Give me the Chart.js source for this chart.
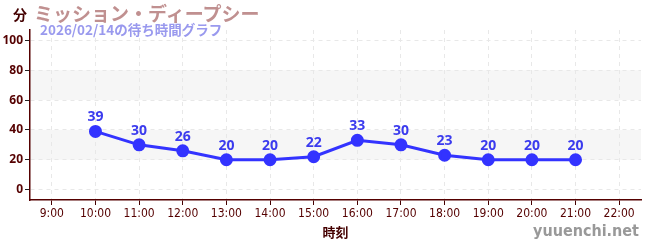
<!DOCTYPE html>
<html>
<head>
<meta charset="utf-8">
<script src="https://cdn.jsdelivr.net/npm/chart.js@4"></script>
<style>
  body { margin: 0; background: #fff; }
  #wrap { position: relative; width: 650px; height: 250px; }
  .lbl { position: absolute; font-family: "Noto Sans CJK JP", sans-serif; font-weight: bold; white-space: nowrap; line-height: 1; }
</style>
</head>
<body>
<div id="wrap">
  <canvas id="grafico" width="650" height="250"></canvas>
  <div class="lbl" style="left:13px;top:7px;font-size:14px;color:#400;">分</div>
  <div class="lbl" style="left:34px;top:3px;font-size:19px;color:#c09090;">ミッション・ディープシー</div>
  <div class="lbl" style="left:40px;top:23px;font-size:13.5px;color:#9999ee;">2026/02/14の待ち時間グラフ</div>
  <div class="lbl" style="left:533px;top:223px;font-size:16px;color:#999;font-family:'DejaVu Sans Condensed','DejaVu Sans',sans-serif;">yuuenchi.net</div>
</div>
<script>
// dados do gráfico
const horas = [10, 11, 12, 13, 14, 15, 16, 17, 18, 19, 20, 21];
const espera = [39, 30, 26, 20, 20, 22, 33, 30, 23, 20, 20, 20];
const horasEixo = [9, 10, 11, 12, 13, 14, 15, 16, 17, 18, 19, 20, 21, 22];
const valoresEixoY = [0, 20, 40, 60, 80, 100];
const faixas = [[20, 40], [60, 80]];

const corEixo = '#500';

// faixas cinzas no fundo
const faixasPlugin = {
  id: 'faixas',
  beforeDraw(chart) {
    const { ctx, chartArea: a, scales: { y } } = chart;
    ctx.save();
    ctx.fillStyle = '#f6f6f6';
    faixas.forEach(([lo, hi]) => {
      const t = y.getPixelForValue(hi), b = y.getPixelForValue(lo);
      ctx.fillRect(a.left, t, a.right - a.left, b - t);
    });
    ctx.restore();
  }
};

// rótulos acima dos pontos
const rotulosPlugin = {
  id: 'rotulos',
  afterDatasetsDraw(chart) {
    const { ctx } = chart;
    const meta = chart.getDatasetMeta(0);
    ctx.save();
    ctx.font = 'bold 14px "Noto Sans", sans-serif';
    ctx.fillStyle = '#3b3bee';
    ctx.textAlign = 'center';
    ctx.textBaseline = 'bottom';
    meta.data.forEach((pt, i) => {
      ctx.fillText(String(espera[i]), pt.x, pt.y - 7);
    });
    ctx.restore();
  }
};

new Chart(document.getElementById('grafico'), {
  type: 'line',
  data: {
    datasets: [{
      data: horas.map((h, i) => ({ x: h, y: espera[i] })),
      borderColor: '#3333ff',
      backgroundColor: '#3333ff',
      borderWidth: 3,
      pointRadius: 5,
      pointHoverRadius: 5,
      tension: 0
    }]
  },
  options: {
    responsive: false,
    animation: false,
    layout: { padding: { top: 30, right: 9, left: 0, bottom: 0 } },
    plugins: { legend: { display: false }, tooltip: { enabled: false } },
    scales: {
      x: {
        type: 'linear',
        min: 8.5,
        max: 22.5,
        afterBuildTicks: s => { s.ticks = horasEixo.map(v => ({ value: v })); },
        afterFit: s => { s.height = 50; },
        ticks: {
          color: corEixo,
          font: { family: '"Liberation Sans Narrow", "DejaVu Sans Condensed", sans-serif', size: 12 },
          padding: 2,
          maxRotation: 0,
          callback: v => v + ':00'
        },
        grid: { color: '#e8e8e8', tickColor: '#400', tickLength: 5 },
        border: { color: corEixo, width: 1.5, dash: [4, 4] },
        title: {
          display: true,
          text: '時刻',
          color: '#400',
          font: { family: '"Noto Sans CJK JP", sans-serif', size: 13, weight: 'bold' },
          padding: { top: 0, bottom: 10 }
        }
      },
      y: {
        min: -7,
        max: 107,
        afterBuildTicks: s => {
          const t = [];
          for (let v = 0; v <= 100; v += 10) t.push({ value: v });
          s.ticks = t;
        },
        afterFit: s => { s.width = 30; },
        ticks: {
          color: corEixo,
          font: { family: '"Noto Sans", sans-serif', size: 12, weight: 'bold' },
          padding: 2,
          callback: v => valoresEixoY.includes(v) ? String(v) : ''
        },
        grid: {
          color: c => valoresEixoY.includes(c.tick && c.tick.value) ? '#e8e8e8' : 'rgba(0,0,0,0)',
          tickColor: c => valoresEixoY.includes(c.tick && c.tick.value) ? '#222' : '#e00',
          tickLength: 5
        },
        border: { color: corEixo, width: 1.5, dash: [4, 4] }
      }
    }
  },
  plugins: [faixasPlugin, rotulosPlugin]
});
</script>
</body>
</html>
